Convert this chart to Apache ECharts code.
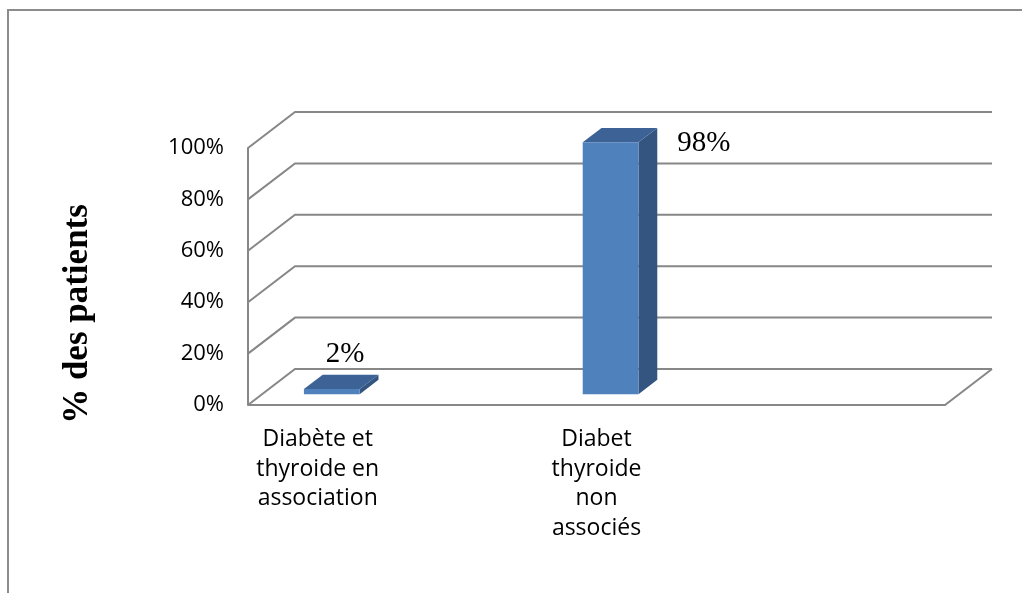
<!DOCTYPE html>
<html>
<head>
<meta charset="utf-8">
<script src="https://cdn.jsdelivr.net/npm/echarts@6/dist/echarts.min.js"></script>
<style>
  html, body { margin: 0; padding: 0; background: #fff; }
  #chart { width: 1022px; height: 593px; }
</style>
</head>
<body>
<div id="chart"></div>
<script>
// Chart data
const categories = ['Diabète et\nthyroide en\nassociation', 'Diabet\nthyroide\nnon\nassociés'];
const percentPatients = [2, 98];
const yTicks = [0, 20, 40, 60, 80, 100];
const yAxisTitle = '% des patients';

// 3D look: the front plane is the grid, the back wall is shifted by DEPTH pixels
const SLOT_COUNT = 5;            // horizontal room on the floor, categories use every other slot
const DEPTH = [47, -36];
const BAR_FRONT = 0.3, BAR_BACK = 0.7, BAR_WIDTH = 0.4;
const GRID_COLOR = '#878787';
const GRID_WIDTH = 2;

const slotOf = i => i * 2 + 0.5;
const barData = percentPatients.map((v, i) => [slotOf(i), v, i]);
const catData = categories.map((c, i) => [slotOf(i), 0, i]);
const tickData = yTicks.map(v => [0, v]);

function renderWalls(params, api) {
  const v = api.value(1);
  const frontL = api.coord([0, v]);
  const backL = [frontL[0] + DEPTH[0], frontL[1] + DEPTH[1]];
  const frontR = api.coord([SLOT_COUNT, v]);
  const backR = [frontR[0] + DEPTH[0], frontR[1] + DEPTH[1]];
  const ls = { stroke: GRID_COLOR, lineWidth: GRID_WIDTH, fill: null };
  const children = [
    { type: 'polyline', shape: { points: [frontL, backL, backR] }, style: ls }
  ];
  if (v === 0) {
    children.push({ type: 'polyline', shape: { points: [frontL, frontR, backR] }, style: ls });
  }
  return { type: 'group', children };
}

function renderBar(params, api) {
  const x = api.value(0), v = api.value(1);
  const base = api.coord([x, 0]);
  const top = api.coord([x, v]);
  const unit = api.size([1, 0])[0];
  const half = unit * BAR_WIDTH / 2;
  const fx = DEPTH[0] * BAR_FRONT, fy = DEPTH[1] * BAR_FRONT;
  const bx = DEPTH[0] * BAR_BACK, by = DEPTH[1] * BAR_BACK;
  const L = base[0] - half, R = base[0] + half;
  const T = top[1], B = base[1];
  const front = [[L + fx, T + fy], [R + fx, T + fy], [R + fx, B + fy], [L + fx, B + fy]];
  const topFace = [[L + fx, T + fy], [R + fx, T + fy], [R + bx, T + by], [L + bx, T + by]];
  const side = [[R + fx, T + fy], [R + bx, T + by], [R + bx, B + by], [R + fx, B + fy]];

  // value label above the bar, or beside it when there is no room above
  const plotTop = api.coord([0, 100])[1] + DEPTH[1];
  const aboveY = T + by - 20;
  let lx, ly, align;
  if (aboveY - 14 >= plotTop) {
    lx = base[0] + (fx + bx) / 2 + 4; ly = aboveY; align = 'center';
  } else {
    lx = R + bx + 20; ly = T + fy + 1; align = 'left';
  }
  return {
    type: 'group',
    children: [
      { type: 'polygon', shape: { points: side }, style: { fill: '#34557f' } },
      { type: 'polygon', shape: { points: topFace }, style: { fill: '#3c6296' } },
      { type: 'polygon', shape: { points: front }, style: { fill: '#4f81bd' } },
      { type: 'text', style: { text: v + '%', x: lx, y: ly, align: align, verticalAlign: 'middle',
          font: '29px "Liberation Serif"', fill: '#000' } }
    ]
  };
}

function renderCategory(params, api) {
  const i = api.value(2);
  const p = api.coord([api.value(0), 0]);
  return {
    type: 'text',
    style: {
      text: categories[i], x: p[0], y: p[1] + 20, align: 'center', verticalAlign: 'top',
      font: '23px "Open Sans"', lineHeight: 29.5, fill: '#000'
    }
  };
}

const chart = echarts.init(document.getElementById('chart'), null, { renderer: 'canvas' });
chart.setOption({
  backgroundColor: '#fff',
  animation: false,
  grid: { left: 248, right: 77, top: 148, bottom: 188 },
  xAxis: { type: 'value', min: 0, max: SLOT_COUNT, show: false },
  yAxis: {
    type: 'value', min: 0, max: 100, interval: 20,
    axisLine: { show: true, lineStyle: { color: GRID_COLOR, width: GRID_WIDTH } },
    axisTick: { show: false },
    splitLine: { show: false },
    axisLabel: { formatter: '{value}%', margin: 24, color: '#000', fontFamily: 'Open Sans', fontSize: 22 }
  },
  graphic: [
    { type: 'rect', shape: { x: 8, y: 10, width: 1200, height: 800 },
      style: { fill: null, stroke: '#8c8c8c', lineWidth: 2 }, z: 10 },
    { type: 'text', x: 78, y: 314, rotation: Math.PI / 2,
      style: { text: yAxisTitle, align: 'center', verticalAlign: 'middle',
        font: 'bold 35px "Liberation Serif"', fill: '#000' } }
  ],
  series: [
    { type: 'custom', renderItem: renderWalls, data: tickData, z: 1, silent: true },
    { type: 'custom', renderItem: renderBar, data: barData, z: 3, silent: true },
    { type: 'custom', renderItem: renderCategory, data: catData, z: 3, silent: true }
  ]
});
</script>
</body>
</html>
